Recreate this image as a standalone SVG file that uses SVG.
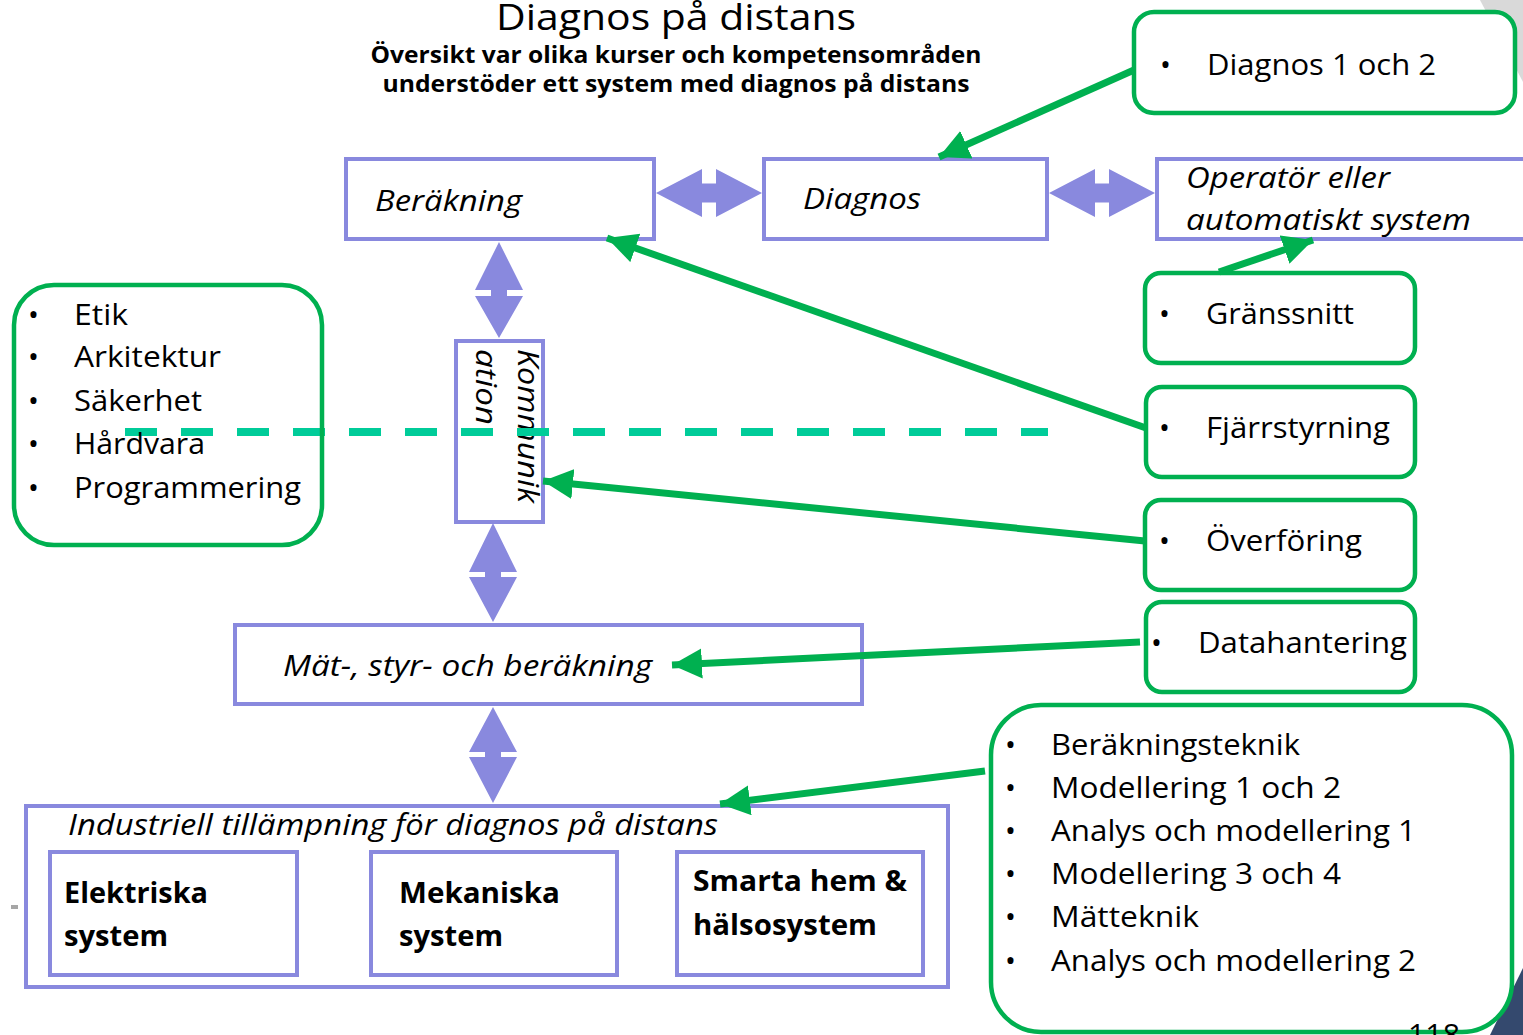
<svg xmlns="http://www.w3.org/2000/svg" width="1523" height="1035" viewBox="0 0 1523 1035">
<defs>
<style>
text{font-family:"Open Sans","Noto Sans","Liberation Sans",sans-serif;fill:#000}
.pb{fill:#fff;stroke:#8989DE;stroke-width:4}
.gb{fill:#fff;stroke:#00B050;stroke-width:4.5}
.it{font-style:italic;font-size:29px}
.bd{font-weight:bold;font-size:29px}
.li{font-size:29px}
.da{fill:#8989DE}
.ga{stroke:#00B050;stroke-width:7;fill:none;marker-end:url(#gh)}
</style>
<marker id="gh" markerUnits="userSpaceOnUse" markerWidth="34" markerHeight="32" refX="30" refY="15" orient="auto"><path d="M0,0 L30,15 L0,30 Z" fill="#00B050"/></marker>
</defs>
<rect width="1523" height="1035" fill="#fff"/>
<polygon points="1480,0 1523,0 1523,82" fill="#D9D9D9"/>
<polygon points="1490,1035 1523,968 1523,1035" fill="#34496E"/>
<rect x="11" y="905" width="7" height="4" fill="#A6A6A6"/>
<rect x="78" y="905" width="7" height="4" fill="#A6A6A6"/>

<g id="title">
<text x="676" y="30" text-anchor="middle" font-size="37" textLength="360" lengthAdjust="spacingAndGlyphs">Diagnos på distans</text>
<text x="676" y="63" text-anchor="middle" font-weight="bold" font-size="24" textLength="611" lengthAdjust="spacingAndGlyphs">Översikt var olika kurser och kompetensområden</text>
<text x="676" y="92" text-anchor="middle" font-weight="bold" font-size="24" textLength="587" lengthAdjust="spacingAndGlyphs">understöder ett system med diagnos på distans</text>
</g>

<g id="berakning"><rect class="pb" x="346" y="159" width="308" height="80"/><text class="it" x="375" y="211" textLength="147" lengthAdjust="spacingAndGlyphs">Beräkning</text></g>
<g id="diagnos"><rect class="pb" x="764" y="159" width="283" height="80"/><text class="it" x="803" y="209" textLength="118" lengthAdjust="spacingAndGlyphs">Diagnos</text></g>
<g id="operator"><rect class="pb" x="1157" y="159" width="380" height="80"/><text class="it" x="1186" y="188" textLength="204" lengthAdjust="spacingAndGlyphs">Operatör eller</text><text class="it" x="1186" y="230" textLength="285" lengthAdjust="spacingAndGlyphs">automatiskt system</text></g>
<g id="kommunikation"><rect class="pb" x="456" y="341" width="87" height="181"/>
<text class="it" transform="translate(518,349) rotate(90)" textLength="154" lengthAdjust="spacingAndGlyphs">Kommunik</text>
<text class="it" transform="translate(476,349) rotate(90)" textLength="76" lengthAdjust="spacingAndGlyphs">ation</text></g>

<g id="dashline"><line x1="125" y1="432" x2="1048" y2="432" stroke="#00CC99" stroke-width="8" stroke-dasharray="32 24"/></g>

<g id="mat"><rect class="pb" x="235" y="625" width="627" height="79"/><text class="it" x="283" y="676" textLength="369" lengthAdjust="spacingAndGlyphs">Mät-, styr- och beräkning</text></g>
<g id="industriell"><rect class="pb" x="26" y="806" width="922" height="181"/><text class="it" x="68" y="835" textLength="650" lengthAdjust="spacingAndGlyphs">Industriell tillämpning för diagnos på distans</text></g>
<g id="elektriska"><rect class="pb" x="50" y="852" width="247" height="123"/><text class="bd" x="64" y="903" textLength="144" lengthAdjust="spacingAndGlyphs">Elektriska</text><text class="bd" x="64" y="946" textLength="104" lengthAdjust="spacingAndGlyphs">system</text></g>
<g id="mekaniska"><rect class="pb" x="371" y="852" width="246" height="123"/><text class="bd" x="399" y="903" textLength="161" lengthAdjust="spacingAndGlyphs">Mekaniska</text><text class="bd" x="399" y="946" textLength="104" lengthAdjust="spacingAndGlyphs">system</text></g>
<g id="smarta"><rect class="pb" x="677" y="852" width="246" height="123"/><text class="bd" x="693" y="891" textLength="214" lengthAdjust="spacingAndGlyphs">Smarta hem &amp;</text><text class="bd" x="693" y="935" textLength="184" lengthAdjust="spacingAndGlyphs">hälsosystem</text></g>

<g id="g-diagnos12"><rect class="gb" x="1134" y="12" width="381" height="101" rx="20"/><text class="li" x="1160" y="75">•</text><text class="li" x="1207" y="75" textLength="229" lengthAdjust="spacingAndGlyphs">Diagnos 1 och 2</text></g>
<g id="g-left"><rect class="gb" x="14" y="285" width="308" height="260" rx="40" fill="none" style="fill:none"/>
<text class="li" x="28" y="325">•</text><text class="li" x="74" y="325" textLength="54" lengthAdjust="spacingAndGlyphs">Etik</text>
<text class="li" x="28" y="367">•</text><text class="li" x="74" y="367" textLength="147" lengthAdjust="spacingAndGlyphs">Arkitektur</text>
<text class="li" x="28" y="411">•</text><text class="li" x="74" y="411" textLength="128" lengthAdjust="spacingAndGlyphs">Säkerhet</text>
<text class="li" x="28" y="454">•</text><text class="li" x="74" y="454" textLength="131" lengthAdjust="spacingAndGlyphs">Hårdvara</text>
<text class="li" x="28" y="498">•</text><text class="li" x="74" y="498" textLength="227" lengthAdjust="spacingAndGlyphs">Programmering</text></g>
<g id="g-granssnitt"><rect class="gb" x="1145" y="273" width="270" height="90" rx="16"/><text class="li" x="1159" y="324">•</text><text class="li" x="1206" y="324" textLength="148" lengthAdjust="spacingAndGlyphs">Gränssnitt</text></g>
<g id="g-fjarr"><rect class="gb" x="1146" y="387" width="269" height="90" rx="16"/><text class="li" x="1159" y="438">•</text><text class="li" x="1206" y="438" textLength="184" lengthAdjust="spacingAndGlyphs">Fjärrstyrning</text></g>
<g id="g-overforing"><rect class="gb" x="1145" y="500" width="270" height="90" rx="16"/><text class="li" x="1159" y="551">•</text><text class="li" x="1206" y="551" textLength="156" lengthAdjust="spacingAndGlyphs">Överföring</text></g>
<g id="g-data"><rect class="gb" x="1146" y="602" width="269" height="90" rx="16"/><text class="li" x="1151" y="653">•</text><text class="li" x="1198" y="653" textLength="209" lengthAdjust="spacingAndGlyphs">Datahantering</text></g>
<g id="g-kurser"><rect class="gb" x="991" y="705" width="521" height="327" rx="50"/>
<text class="li" x="1005" y="755">•</text><text class="li" x="1051" y="755" textLength="249" lengthAdjust="spacingAndGlyphs">Beräkningsteknik</text>
<text class="li" x="1005" y="798">•</text><text class="li" x="1051" y="798" textLength="290" lengthAdjust="spacingAndGlyphs">Modellering 1 och 2</text>
<text class="li" x="1005" y="841">•</text><text class="li" x="1051" y="841" textLength="365" lengthAdjust="spacingAndGlyphs">Analys och modellering 1</text>
<text class="li" x="1005" y="884">•</text><text class="li" x="1051" y="884" textLength="290" lengthAdjust="spacingAndGlyphs">Modellering 3 och 4</text>
<text class="li" x="1005" y="927">•</text><text class="li" x="1051" y="927" textLength="148" lengthAdjust="spacingAndGlyphs">Mätteknik</text>
<text class="li" x="1005" y="971">•</text><text class="li" x="1051" y="971" textLength="365" lengthAdjust="spacingAndGlyphs">Analys och modellering 2</text></g>

<g id="connectors">
<path class="da" d="M656,193 L702,169 L702,183.5 L716,183.5 L716,169 L762,193 L716,217 L716,202.5 L702,202.5 L702,217 Z"/>
<path class="da" d="M1049,193 L1095,169 L1095,183.5 L1109,183.5 L1109,169 L1155,193 L1109,217 L1109,202.5 L1095,202.5 L1095,217 Z"/>
<path class="da" d="M499,242 L523,290 L507,290 L507,296 L523,296 L499,338 L475,296 L491,296 L491,290 L475,290 Z"/>
<path class="da" d="M493,523 L517,572 L501,572 L501,577 L517,577 L493,622 L469,577 L485,577 L485,572 L469,572 Z"/>
<path class="da" d="M493,707 L517,752 L501,752 L501,757 L517,757 L493,803 L469,757 L485,757 L485,752 L469,752 Z"/>
<line class="ga" x1="1134" y1="70" x2="939" y2="157"/>
<line class="ga" x1="1219" y1="272" x2="1313" y2="240"/>
<line class="ga" x1="1146" y1="428" x2="607" y2="238"/>
<line class="ga" x1="1145" y1="541" x2="543" y2="481"/>
<line class="ga" x1="1140" y1="642" x2="672" y2="665"/>
<line class="ga" x1="985" y1="771" x2="720" y2="804"/>
</g>
<text x="1408" y="1045" font-size="30" textLength="52" lengthAdjust="spacingAndGlyphs">118</text>
</svg>
